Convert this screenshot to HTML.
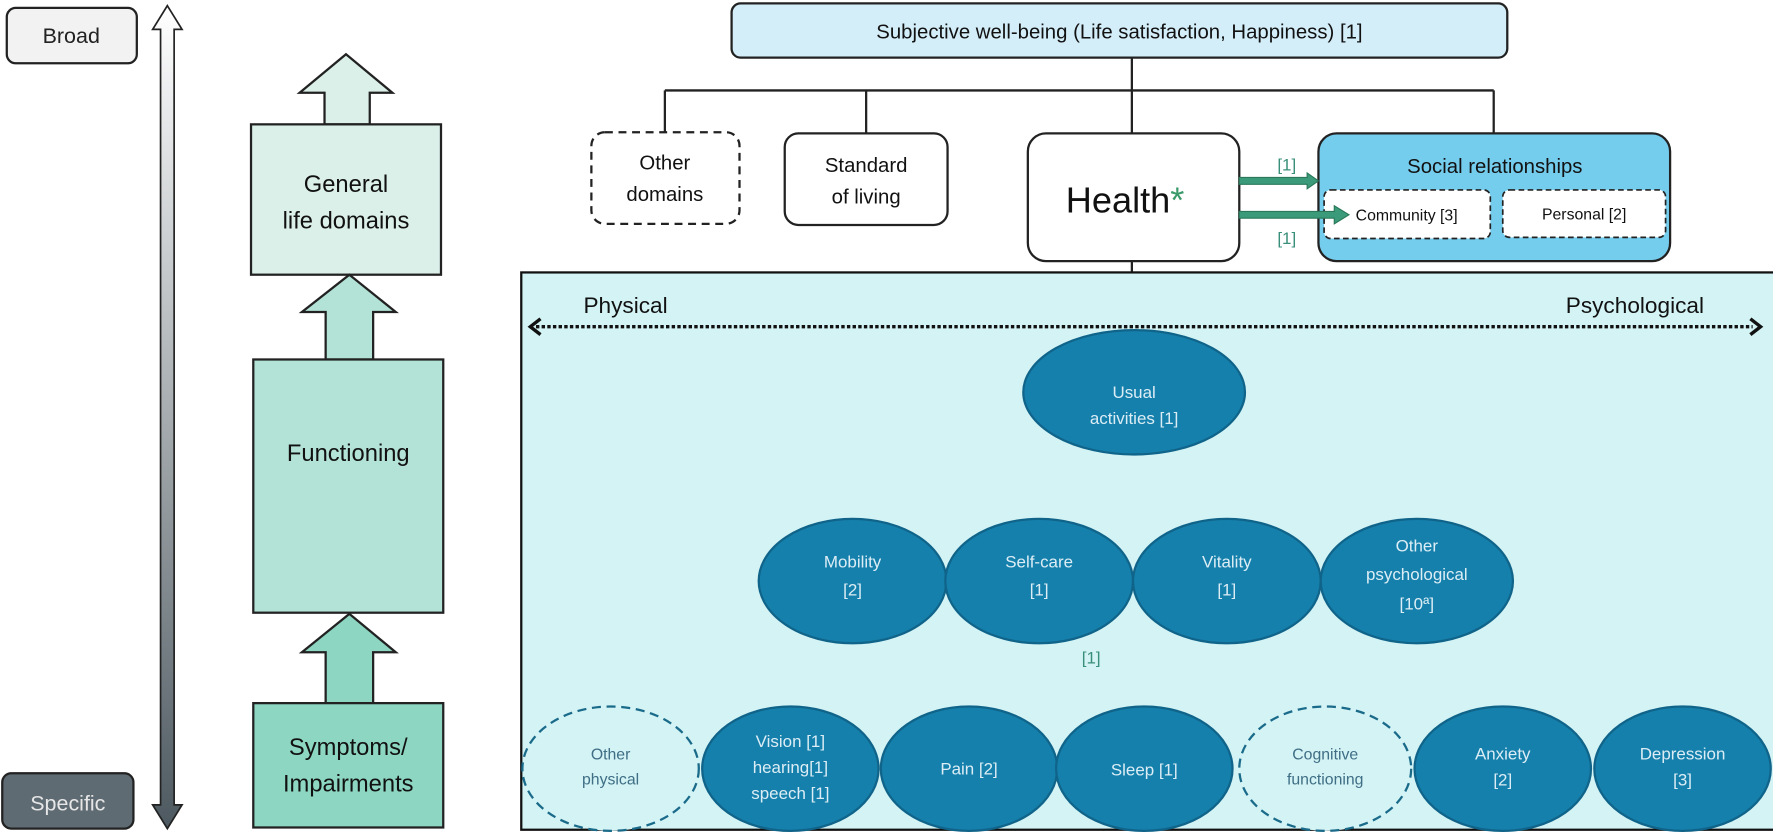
<!DOCTYPE html>
<html><head><meta charset="utf-8"><style>
html,body{margin:0;padding:0;background:#fff;}
svg{display:block;font-family:"Liberation Sans",sans-serif;}
</style></head><body>
<svg width="1773" height="832" viewBox="0 0 1568 736" preserveAspectRatio="none" xmlns="http://www.w3.org/2000/svg">
<defs>
<linearGradient id="g" x1="0" y1="0" x2="0" y2="1">
<stop offset="0" stop-color="#ffffff"/><stop offset="1" stop-color="#4d5960"/>
</linearGradient>
</defs>
<rect x="6" y="7" width="115" height="49" rx="8" fill="#f2f2f2" stroke="#222" stroke-width="2"/>
<text x="63" y="38" font-size="19" text-anchor="middle" fill="#222">Broad</text>
<rect x="2" y="684" width="116" height="49" rx="8" fill="#5f6b73" stroke="#222" stroke-width="2"/>
<text x="60" y="717" font-size="19" text-anchor="middle" fill="#e6e6e6">Specific</text>
<path d="M148,5 L161,26 L154,26 L154,712 L161,712 L148,733 L135,712 L142,712 L142,26 L135,26 Z" fill="url(#g)" stroke="#222" stroke-width="1.5"/>
<path d="M306,48 L347,82 L327,82 L327,110 L287,110 L287,82 L265,82 Z" fill="#dcf0ea" stroke="#222" stroke-width="2"/>
<rect x="222" y="110" width="168" height="133" fill="#dcf0ea" stroke="#222" stroke-width="2"/>
<text x="306" y="170" font-size="21" text-anchor="middle" fill="#111">General</text>
<text x="306" y="202" font-size="21" text-anchor="middle" fill="#111">life domains</text>
<path d="M309,243 L350,276 L330,276 L330,318 L288,318 L288,276 L267,276 Z" fill="#b3e3d6" stroke="#222" stroke-width="2"/>
<rect x="224" y="318" width="168" height="224" fill="#b3e3d6" stroke="#222" stroke-width="2"/>
<text x="308" y="408" font-size="21" text-anchor="middle" fill="#111">Functioning</text>
<path d="M309,543 L350,577 L330,577 L330,622 L288,622 L288,577 L267,577 Z" fill="#8dd6c1" stroke="#222" stroke-width="2"/>
<rect x="224" y="622" width="168" height="110" fill="#8dd6c1" stroke="#222" stroke-width="2"/>
<text x="308" y="668" font-size="21" text-anchor="middle" fill="#111">Symptoms/</text>
<text x="308" y="700" font-size="21" text-anchor="middle" fill="#111">Impairments</text>
<rect x="647" y="3" width="686" height="48" rx="8" fill="#d4eef9" stroke="#222" stroke-width="2"/>
<text x="990" y="34" font-size="18" text-anchor="middle" fill="#111">Subjective well-being (Life satisfaction, Happiness) [1]</text>
<path d="M1001,51 V118 M588,80 H1321 M588,80 V118 M766,80 V118 M1321,80 V118 M1001,231 V241" stroke="#222" stroke-width="2" fill="none"/>
<rect x="523" y="117" width="131" height="81" rx="12" fill="#fff" stroke="#222" stroke-width="2" stroke-dasharray="7,5"/>
<text x="588" y="150" font-size="18" text-anchor="middle" fill="#111">Other</text>
<text x="588" y="178" font-size="18" text-anchor="middle" fill="#111">domains</text>
<rect x="694" y="118" width="144" height="81" rx="12" fill="#fff" stroke="#222" stroke-width="2"/>
<text x="766" y="152" font-size="18" text-anchor="middle" fill="#111">Standard</text>
<text x="766" y="180" font-size="18" text-anchor="middle" fill="#111">of living</text>
<rect x="909" y="118" width="187" height="113" rx="16" fill="#fff" stroke="#222" stroke-width="2"/>
<text x="995" y="188" font-size="32" text-anchor="middle" fill="#111">Health<tspan fill="#3a9a6a">*</tspan></text>
<rect x="1166" y="118" width="311" height="113" rx="16" fill="#75cdee" stroke="#222" stroke-width="2"/>
<text x="1322" y="153" font-size="18" text-anchor="middle" fill="#111">Social relationships</text>
<rect x="1171" y="168" width="147" height="43" rx="6" fill="#fff" stroke="#222" stroke-width="1.5" stroke-dasharray="5,3"/>
<text x="1244" y="195" font-size="14" text-anchor="middle" fill="#111">Community [3]</text>
<rect x="1329" y="168" width="144" height="42" rx="6" fill="#fff" stroke="#222" stroke-width="1.5" stroke-dasharray="5,3"/>
<text x="1401" y="194" font-size="14" text-anchor="middle" fill="#111">Personal [2]</text>
<path d="M1096,157 H1156 V153 L1166,160 L1156,167 V163 H1096 Z" fill="#3a9a7a" stroke="#2a7a5a" stroke-width="1"/>
<path d="M1096,187 H1180 V182 L1193,190 L1180,198 V193 H1096 Z" fill="#3a9a7a" stroke="#2a7a5a" stroke-width="1"/>
<text x="1138" y="151" font-size="15" text-anchor="middle" fill="#3a8f7a">[1]</text>
<text x="1138" y="216" font-size="15" text-anchor="middle" fill="#3a8f7a">[1]</text>
<rect x="461" y="241" width="1110" height="493" fill="#d3f3f5" stroke="#111" stroke-width="2"/>
<text x="516" y="277" font-size="20" fill="#111">Physical</text>
<text x="1507" y="277" font-size="20" text-anchor="end" fill="#111">Psychological</text>
<line x1="474" y1="289" x2="1550" y2="289" stroke="#111" stroke-width="3" stroke-dasharray="3,2"/>
<path d="M478,282 L469,289 L478,296 M1548,282 L1557,289 L1548,296" stroke="#111" stroke-width="3" fill="none"/>
<g fill="#1580ac" stroke="#10648a" stroke-width="2">
<ellipse cx="1003" cy="347" rx="98" ry="55"/>
<ellipse cx="754" cy="514" rx="83" ry="55"/>
<ellipse cx="919" cy="514" rx="83" ry="55"/>
<ellipse cx="1085" cy="514" rx="83" ry="55"/>
<ellipse cx="1253" cy="514" rx="85" ry="55"/>
<ellipse cx="699" cy="680" rx="78" ry="55"/>
<ellipse cx="857" cy="680" rx="78" ry="55"/>
<ellipse cx="1012" cy="680" rx="78" ry="55"/>
<ellipse cx="1329" cy="680" rx="78" ry="55"/>
<ellipse cx="1488" cy="680" rx="78" ry="55"/>
</g>
<g fill="#d3f3f5" stroke="#1a6a8a" stroke-width="2" stroke-dasharray="8,5">
<ellipse cx="540" cy="680" rx="78" ry="55"/>
<ellipse cx="1172" cy="680" rx="76" ry="55"/>
</g>
<g font-size="15" text-anchor="middle" fill="#dcedf5">
<text x="1003" y="352">Usual</text><text x="1003" y="375">activities [1]</text>
<text x="754" y="502">Mobility</text><text x="754" y="527">[2]</text>
<text x="919" y="502">Self-care</text><text x="919" y="527">[1]</text>
<text x="1085" y="502">Vitality</text><text x="1085" y="527">[1]</text>
<text x="1253" y="488">Other</text><text x="1253" y="513">psychological</text><text x="1253" y="539">[10ª]</text>
<text x="699" y="661">Vision [1]</text><text x="699" y="684">hearing[1]</text><text x="699" y="707">speech [1]</text>
<text x="857" y="685">Pain [2]</text>
<text x="1012" y="686">Sleep [1]</text>
<text x="1329" y="672">Anxiety</text><text x="1329" y="695">[2]</text>
<text x="1488" y="672">Depression</text><text x="1488" y="695">[3]</text>
</g>
<g font-size="14" text-anchor="middle" fill="#3f6e85">
<text x="540" y="672">Other</text><text x="540" y="694">physical</text>
<text x="1172" y="672">Cognitive</text><text x="1172" y="694">functioning</text>
</g>
<text x="965" y="587" font-size="15" text-anchor="middle" fill="#3a8f7a">[1]</text>
</svg>
</body></html>
